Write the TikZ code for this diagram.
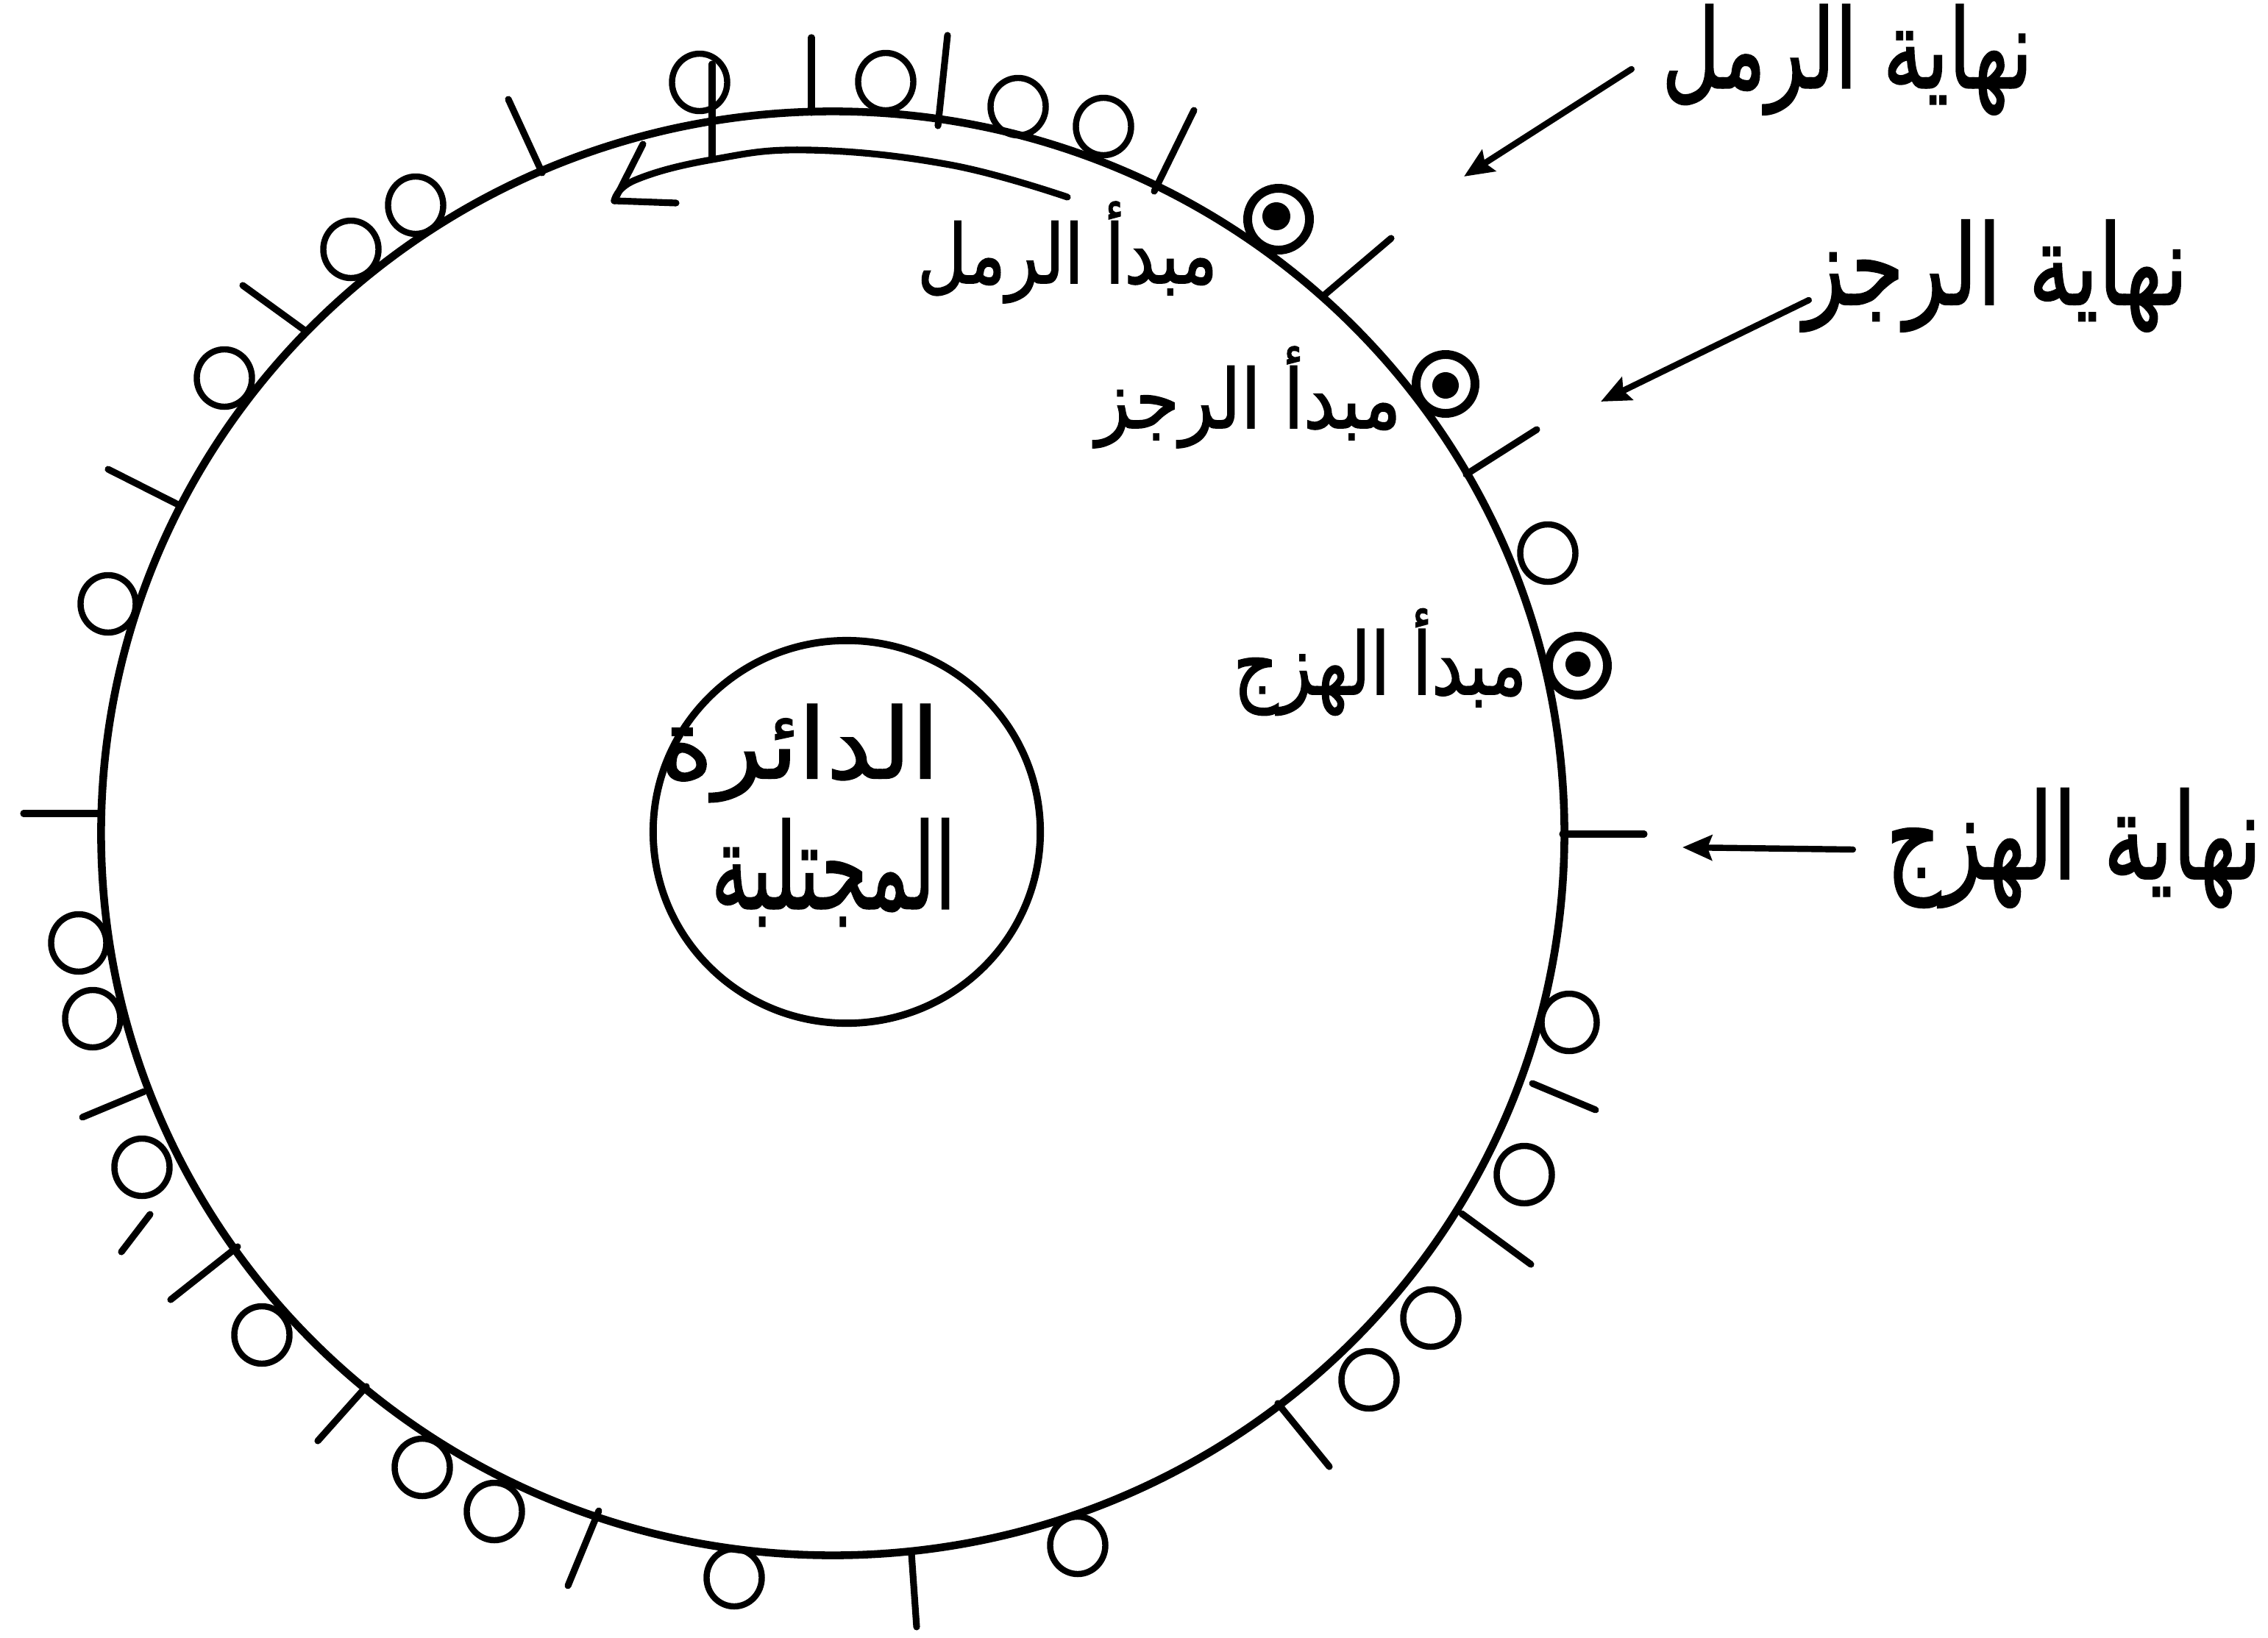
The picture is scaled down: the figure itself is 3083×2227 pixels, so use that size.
\documentclass[tikz,border=0pt]{standalone}
\usepackage{fontspec}
\usepackage{graphicx}
\newfontfamily\arabicfont[Script=Arabic,FakeBold=1.5]{DejaVu Sans}
\TeXXeTstate=1
\usetikzlibrary{arrows.meta}
\newcommand{\arlabel}[3]{\resizebox*{#1}{#2}{\arabicfont #3}}
\begin{document}
\begin{tikzpicture}[x=0.01cm,y=-0.01cm, line width=2.6pt, line cap=round,
  mainring/.style={line width=3.0pt},
  innerring/.style={line width=2.8pt},
  ring/.style={line width=2.4pt},
  marker/.style={line width=3.4pt},
  lbl/.style={inner sep=0pt, outer sep=0pt},
  arr/.style={line width=2.4pt, -{Stealth[length=0.4cm,width=0.34cm,inset=0.06cm]}}]
\useasboundingbox (0,0) rectangle (3083,2227);
% main circle
\draw[mainring] (1132,1133) ellipse [x radius=9.94cm, y radius=9.81cm];
% inner circle
\draw[innerring] (1151,1131) ellipse [x radius=2.63cm, y radius=2.60cm];
% ticks
\foreach \xa/\ya/\xb/\yb in {968/87/968/214, 1103/51/1103/153, 1288/48/1275/171,
  1623/150/1569/260, 1891/324/1798/403, 2089/584/1993/645, 2124/1134/2235/1134,
  2083/1473/2169/1509, 1987/1650/2081/1719, 1737/1908/1807/1994, 1239/2112/1246/2212,
  814/2054/772/2156, 498/1885/432/1959, 323/1695/232/1767, 204/1651/165/1702,
  196/1484/112/1519, 32/1106/137/1106, 242/686/147/638, 414/449/330/388, 737/235/691/135}
  \draw (\xa,\ya) -- (\xb,\yb);
% small circles
\foreach \cx/\cy in {951/112, 1204/111, 1384/145, 1500/172, 2104/752, 2133/1390,
  2072/1597, 1945/1792, 1861/1876, 1465/2101, 998/2145, 672/2055, 574/1995,
  356/1815, 193/1587, 126/1385, 107/1282, 147/821, 305/514, 477/339, 565/279}
  \draw[ring] (\cx,\cy) ellipse [x radius=0.375cm, y radius=0.39cm];
% markers
\draw[marker] (1738,298) circle [radius=0.42cm];
\fill (1735,294) circle [radius=0.19cm];
\draw[marker] (1965,522) circle [radius=0.40cm];
\fill (1965,524) circle [radius=0.18cm];
\draw[marker] (2145,905) circle [radius=0.40cm];
\fill (2145,903) circle [radius=0.17cm];
% inner arrow arc
\draw plot[smooth, tension=0.7] coordinates {(1451,268) (1291,224) (1100,204) (968,217) (863,245) (835,273)};
\draw (835,273) -- (874,196);
\draw (835,273) -- (919,276);
% labels
\node[lbl] (sRamal) at (1451,343) {\arlabel{4.08cm}{1.38cm}{\beginR مبدأ الرمل\endR}};
\node[lbl] (sRajaz) at (1697,540) {\arlabel{4.15cm}{1.38cm}{\beginR مبدأ الرجز\endR}};
\node[lbl] (sHazaj) at (1876,900) {\arlabel{3.99cm}{1.45cm}{\beginR مبدأ الهزج\endR}};
\node[lbl] (eRamal) at (2511,81) {\arlabel{5.04cm}{1.50cm}{\beginR نهاية الرمل\endR}};
\node[lbl] (eRajaz) at (2713,375) {\arlabel{5.22cm}{1.52cm}{\beginR نهاية الرجز\endR}};
\node[lbl] (eHazaj) at (2819,1153) {\arlabel{5.10cm}{1.62cm}{\beginR نهاية الهزج\endR}};
\node[lbl] (inA) at (1087,1024) {\arlabel{3.80cm}{1.33cm}{\beginR الدائرة\endR}};
\node[lbl] (inB) at (1133,1186) {\arlabel{3.32cm}{1.46cm}{\beginR المجتلبة\endR}};
% arrow tips
\coordinate (tRamal) at (1990,240);
\coordinate (tRajaz) at (2176,546);
\coordinate (tHazaj) at (2287,1152);
\draw[arr] ([xshift=-0.41cm,yshift=-0.13cm]eRamal.west) -- (tRamal);
\draw[arr] ([xshift=0.07cm,yshift=-0.33cm]eRajaz.west) -- (tRajaz);
\draw[arr] ([xshift=-0.45cm,yshift=-0.02cm]eHazaj.west) -- (tHazaj);
\end{tikzpicture}
\end{document}
